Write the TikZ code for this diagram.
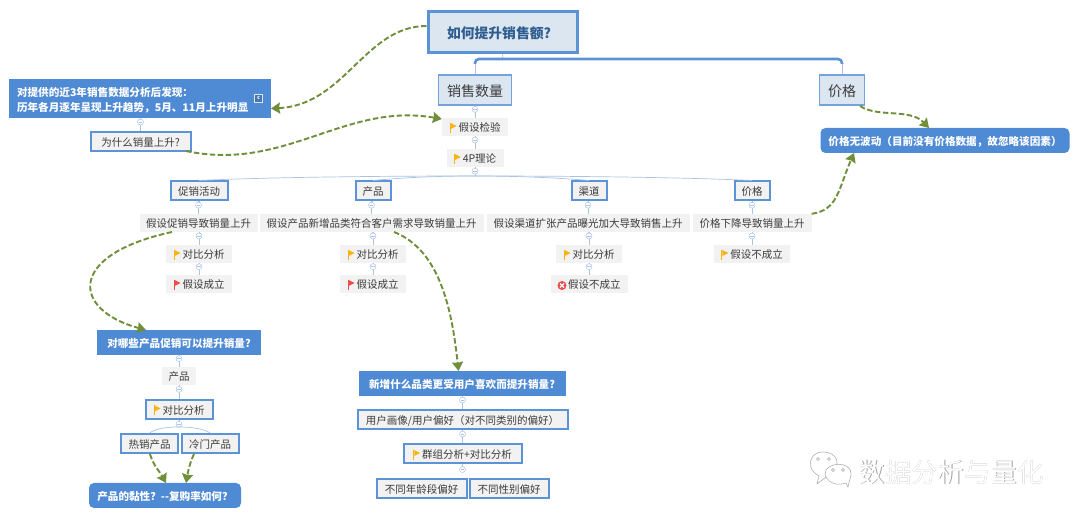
\documentclass[tikz,border=0pt]{standalone}
\usepackage{fontspec}
\usetikzlibrary{arrows.meta}
\setmainfont{Noto Sans CJK SC}
\definecolor{headblue}{HTML}{4F8AD4}
\definecolor{edgeblue}{HTML}{5B93D6}
\definecolor{rootfill}{HTML}{DCE6F1}
\definecolor{twigblue}{HTML}{A9C4E4}
\definecolor{paleback}{HTML}{F2F2F2}
\definecolor{inkdark}{HTML}{3B3B3B}
\definecolor{rootink}{HTML}{2F5D8F}
\definecolor{relgreen}{HTML}{6F8F3A}
\definecolor{flagyellow}{HTML}{F9B414}
\definecolor{flagred}{HTML}{EE4B4B}
\newcommand{\flagicon}[1]{\tikz[baseline=-3pt,x=1pt,y=1pt]{\fill[#1] (0,-4) rectangle (1.2,6); \fill[#1] (1.2,6) -- (7,3) -- (1.2,0) -- cycle;}\hspace{2pt}}
\newcommand{\failicon}{\tikz[baseline=-3.5pt,x=1pt,y=1pt]{\fill[flagred] (0,0) circle (4.5); \draw[white,line width=1.2pt] (-2,-2) -- (2,2) (-2,2) -- (2,-2);}\hspace{1.5pt}}
\tikzset{
  headbox/.style={fill=headblue,text=white,font=\fontsize{10.6}{15}\selectfont\bfseries,inner sep=0pt,minimum height=25pt,text height=11.5pt,text depth=1.5pt},
  pillbox/.style={headbox,rounded corners=5pt},
  greybox/.style={fill=paleback,text=inkdark,font=\fontsize{10.5}{13}\selectfont,inner sep=0pt,minimum height=18pt,text height=11.5pt,text depth=1.5pt},
  linebox/.style={greybox,draw=edgeblue,line width=2pt,minimum height=19pt},
  branchbox/.style={fill=rootfill,draw=edgeblue!85,line width=1.5pt,text=inkdark,font=\fontsize{14}{16}\selectfont,inner sep=0pt,minimum height=30pt,text height=15pt,text depth=2pt},
  twig/.style={draw=twigblue,line width=.7pt},
  trunk/.style={draw=edgeblue,line width=2.6pt,rounded corners=4pt},
  fold/.style={circle,draw=twigblue,fill=white,line width=.5pt,inner sep=0pt,minimum size=6pt,
    path picture={\draw[twigblue,line width=.4pt] (-1.6pt,0pt) -- (1.6pt,0pt);}},
  relation/.style={draw=relgreen,line width=1.9pt,dash pattern=on 5.5pt off 2.5pt,-{Stealth[length=9pt,width=11pt,inset=1pt]}},
}
\begin{document}
\begin{tikzpicture}[x=1pt,y=-1pt]
    \useasboundingbox (0,0) rectangle (1080,518);
    \fill[white] (0,0) rectangle (1080,518);
    % Root and its two branches
    \node[fill=rootfill,draw=edgeblue,line width=3pt,text=rootink,font=\fontsize{13.8}{16}\selectfont\bfseries,minimum width=149pt,minimum height=41pt,inner sep=0pt,text height=15pt,text depth=2pt] (root) at (502.5,32) {如何提升销售额?\hspace*{7pt}};
    \node[branchbox,minimum width=73pt] (sales) at (475,90) {销售数量};
    \node[branchbox,minimum width=45pt] (cost) at (842,90) {价格};
    \coordinate (bar) at (503,59);
    \coordinate (barl) at (475,64);
    \coordinate (barr) at (842,64);
    \draw[twig] (root.south) -- (bar);
    \draw[twig] (sales.north) -- (barl);
    \draw[twig] (cost.north) -- (barr);
    \draw[trunk] (barl) |- (bar) -| (barr);
    % Notes on the left and right
    \node[headbox,text height=,text depth=,minimum height=39pt,minimum width=262pt,text width=246pt,align=left] (finding) at (140,98.5) {\rule{0pt}{12.5pt}对提供的近3年销售数据分析后发现：\\历年各月逐年呈现上升趋势，5月、11月上升明显};
    \node[fill=edgeblue!80!black,draw=rootfill,line width=.6pt,text=white,font=\fontsize{5.5}{5}\selectfont\bfseries,inner sep=0pt,minimum size=8pt] (badge) at (258.5,98) {c};
    \node[linebox,minimum width=100pt] (why) at (140.5,141.5) {为什么销量上升?};
    \node[pillbox,minimum width=249pt] (nowave) at (945,140.5) {价格无波动（目前没有价格数据，故忽略该因素）};
    % Hypothesis test and 4P
    \node[greybox,minimum width=66pt] (test) at (475,127) {\flagicon{flagyellow}假设检验};
    \node[greybox,minimum width=57pt] (fourp) at (475,158) {\flagicon{flagyellow}4P理论};
    \coordinate (hub) at (475,176);
    % The four P
    \node[linebox,minimum width=57pt] (promo) at (199,191) {促销活动};
    \node[linebox,minimum width=35pt] (goods) at (373,191) {产品};
    \node[linebox,minimum width=35pt] (channel) at (589,191) {渠道};
    \node[linebox,minimum width=35pt] (tag) at (752,191) {价格};
    % Their hypotheses
    \node[greybox,minimum width=118pt] (hypA) at (198.5,223) {假设促销导致销量上升};
    \node[greybox,minimum width=224pt] (hypB) at (371.5,223) {假设产品新增品类符合客户需求导致销量上升};
    \node[greybox,minimum width=203pt] (hypC) at (588,223) {假设渠道扩张产品曝光加大导致销售上升};
    \node[greybox,minimum width=119pt] (hypD) at (752,223) {价格下降导致销量上升};
    % Their checks
    \node[greybox,minimum width=66pt] (cmpA) at (199,254) {\flagicon{flagyellow}对比分析};
    \node[greybox,minimum width=66pt] (cmpB) at (373,254) {\flagicon{flagyellow}对比分析};
    \node[greybox,minimum width=66pt] (cmpC) at (589,254) {\flagicon{flagyellow}对比分析};
    \node[greybox,minimum width=76pt] (noD) at (752,254) {\flagicon{flagyellow}假设不成立};
    \node[greybox,minimum width=66pt] (yesA) at (199,284) {\flagicon{flagred}假设成立};
    \node[greybox,minimum width=66pt] (yesB) at (373,284) {\flagicon{flagred}假设成立};
    \node[greybox,minimum width=77pt] (noC) at (589,284) {\failicon 假设不成立};
    % Promotion subtree
    \node[headbox,minimum width=164pt] (whichq) at (179,342.5) {对哪些产品促销可以提升销量?};
    \node[greybox,minimum width=34pt] (goodsq) at (179,376) {产品};
    \node[linebox,minimum width=67pt] (cmpq) at (179,409.5) {\flagicon{flagyellow}对比分析};
    \coordinate (hubq) at (179,427);
    \node[linebox,minimum width=57pt] (hot) at (149.5,443.5) {热销产品};
    \node[linebox,minimum width=57pt] (cold) at (210,443.5) {冷门产品};
    \node[pillbox,minimum width=152pt] (sticky) at (165,495.5) {产品的黏性？-{}-复购率如何？};
    % New category subtree
    \node[headbox,minimum width=207pt] (newq) at (462,383.5) {新增什么品类更受用户喜欢而提升销量?};
    \node[linebox,minimum width=210pt] (portrait) at (462.5,419.5) {用户画像/用户偏好（对不同类别的偏好）};
    \node[linebox,minimum width=118pt] (cluster) at (462.5,454) {\flagicon{flagyellow}群组分析+对比分析};
    \node[linebox,minimum width=90pt] (age) at (421.5,488.5) {不同年龄段偏好};
    \node[linebox,minimum width=79pt] (gender) at (509,488.5) {不同性别偏好};
    % Thin straight links with their fold marks
    \foreach \a/\b in {finding/why,sales/test,test/fourp,promo/hypA,goods/hypB,channel/hypC,tag/hypD,hypA/cmpA,hypB/cmpB,hypC/cmpC,hypD/noD,cmpA/yesA,cmpB/yesB,cmpC/noC,whichq/goodsq,goodsq/cmpq,newq/portrait,portrait/cluster}
      \draw[twig] (\a.south) -- (\a.south -| \b.north) -- (\b.north) node[fold,pos=.3] {};
    % Thin curved links
    \draw[twig] (fourp.south) -- (hub) node[fold,pos=.45] {};
    \draw[twig] (hub) .. controls (350,176) and (250,178) .. (promo.north);
    \draw[twig] (hub) .. controls (430,176) and (400,178) .. (goods.north);
    \draw[twig] (hub) .. controls (520,176) and (560,178) .. (channel.north);
    \draw[twig] (hub) .. controls (600,176) and (700,178) .. (tag.north);
    \draw[twig] (cmpq.south) -- (hubq) node[fold,pos=.6] {};
    \draw[twig] (hubq) .. controls (165,427) and (155,429) .. (hot.north);
    \draw[twig] (hubq) .. controls (193,427) and (204,429) .. (cold.north);
    \draw[twig] (cluster.south) -- ++(0,5) node[fold] (foldage) {};
    % Dashed relations
    \draw[relation] (root.west|-0,26) .. controls (365,26) and (345,105) .. (271,108.5);
    \draw[relation] (186,151) .. controls (285,172) and (345,102) .. (test.west|-0,119);
    \draw[relation] (860,106) .. controls (878,118) and (910,108) .. (929,128);
    \draw[relation] (hypD.north east) .. controls (838,210) and (838,190) .. (854,153);
    \draw[relation] (172,232) .. controls (66,255) and (72,310) .. (146,330);
    \draw[relation] (394,232) .. controls (440,250) and (452,310) .. (458.5,371);
    \draw[relation] (150,454) .. controls (153,465) and (160,472) .. (166,483);
    \draw[relation] (194,454) .. controls (189,465) and (188,472) .. (186,483);
    % Watermark
    \draw[gray!70,fill=white,line width=.5pt] (817,484) -- (819,476) .. controls (806,470) and (808,452) .. (823,452) .. controls (838,452) and (842,466) .. (830,474) -- cycle;
    \draw[gray!70,fill=white,line width=.5pt] (848,487) -- (846,483) .. controls (830,488) and (825,476) .. (825,474) .. controls (825,462) and (851,460) .. (851,474) .. controls (851,478) and (849,481) .. (848,487) -- cycle;
    \foreach \dotx/\doty in {818/459,829/459,833/470,843/470}
      \draw[gray!70,fill=white,line width=.4pt] (\dotx,\doty) circle (1.5);
    \node[text=gray!75,font=\fontsize{26.4}{26}\selectfont,inner sep=0pt] at (951.4,472.6) {数据分析与量化};
    \node[text=white,font=\fontsize{26.4}{26}\selectfont,inner sep=0pt] (mark) at (951,472) {数据分析与量化};
\end{tikzpicture}
\end{document}
